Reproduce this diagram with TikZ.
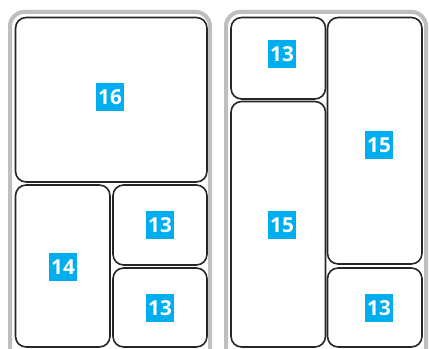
\documentclass[tikz,border=0pt]{standalone}
\usepackage{fontspec}
\setsansfont{Open Sans}
\definecolor{tagblue}{HTML}{00AEEF}
\definecolor{casegrey}{HTML}{BEBEBE}

\begin{document}
\begin{tikzpicture}[x=0.75pt,y=-0.75pt,
  case/.style={draw=casegrey,line width=3pt,rounded corners=10.5pt},
  tray/.style={draw=black!85,line width=1.2pt,rounded corners=8pt},
  tag/.style={fill=tagblue,text=white,inner sep=0pt,minimum size=21pt,
    font=\sffamily\bfseries\fontsize{15.5}{15.5}\selectfont}]
  \useasboundingbox (0,0) rectangle (429,349);
  \clip (0,0) rectangle (429,349);
  % left case
  \draw[case] (10,12) rectangle (210,364);
  \draw[tray] (15.5,17.5) rectangle (207,182);
  \node[tag] (left16) at (110,97) {16};
  \draw[tray] (15.5,185) rectangle (110,347);
  \node[tag] (left14) at (63,267) {14};
  \draw[tray] (113,185) rectangle (207,265);
  \node[tag] (left13a) at (160,225) {13};
  \draw[tray] (113,268) rectangle (207,347);
  \node[tag] (left13b) at (160,308) {13};
  % right case
  \draw[case] (226,12) rectangle (426,364);
  \draw[tray] (231,17.5) rectangle (325.5,99);
  \node[tag] (right13a) at (282,54) {13};
  \draw[tray] (231,101.5) rectangle (325.5,347);
  \node[tag] (right15a) at (282,225) {15};
  \draw[tray] (327.5,17.5) rectangle (422,264);
  \node[tag] (right15b) at (379,145) {15};
  \draw[tray] (327.5,268) rectangle (422,347);
  \node[tag] (right13b) at (379,308) {13};
\end{tikzpicture}
\end{document}
